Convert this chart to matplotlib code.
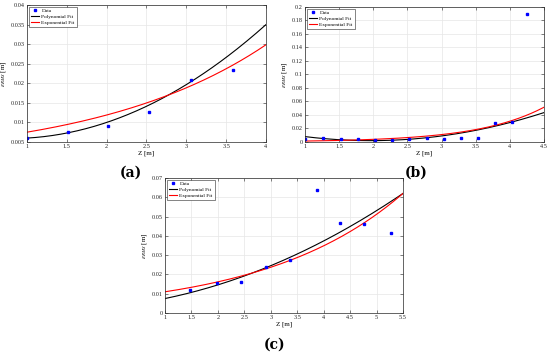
import numpy as np
import matplotlib
matplotlib.use("Agg")
import matplotlib.pyplot as plt

plt.rcParams['font.family'] = ['Liberation Serif', 'DejaVu Serif']
plt.rcParams['mathtext.fontset'] = 'stix'

# ---- Panel (a) ----
za = [1.00, 1.513, 2.014, 2.532, 3.053, 3.592]
ea = [0.00603, 0.00767, 0.00905, 0.01259, 0.02078, 0.02336]
poly_a = [0.002833, -0.0045, 0.007667]      # quadratic coefficients
exp_a = [0.00474, 0.46]                      # a*exp(b*z)
xlim_a = [1, 4]
ylim_a = [0.005, 0.04]
xt_a = [1, 1.5, 2, 2.5, 3, 3.5, 4]
yt_a = [0.005, 0.01, 0.015, 0.02, 0.025, 0.03, 0.035, 0.04]
ytl_a = ['0.005', '0.01', '0.015', '0.02', '0.025', '0.03', '0.035', '0.04']

# ---- Panel (b) ----
zb = [1.00, 1.27, 1.52, 1.77, 2.03, 2.28, 2.53, 2.78, 3.03, 3.28, 3.53, 3.78, 4.03, 4.25]
eb = [0.0038, 0.0052, 0.0043, 0.0048, 0.0033, 0.0033, 0.0048, 0.0052, 0.0048,
      0.0057, 0.0062, 0.0280, 0.0298, 0.1898]
poly_b = [0.00646, -0.02537, 0.02692]
exp_b = [0.000500, 1.03]
xlim_b = [1, 4.5]
ylim_b = [0, 0.2]
xt_b = [1, 1.5, 2, 2.5, 3, 3.5, 4, 4.5]
yt_b = [0, 0.02, 0.04, 0.06, 0.08, 0.1, 0.12, 0.14, 0.16, 0.18, 0.2]
ytl_b = ['0', '0.02', '0.04', '0.06', '0.08', '0.1', '0.12', '0.14', '0.16', '0.18', '0.2']

# ---- Panel (c) ----
zc = [1.475, 1.98, 2.443, 2.911, 3.36, 3.867, 4.316, 4.772, 5.266]
ec = [0.01167, 0.0153, 0.0160, 0.0239, 0.0275, 0.0638, 0.0467, 0.0462, 0.0413]
poly_c = [0.001437, 0.00277, 0.0032925]
exp_c = [0.00749, 0.3843]
xlim_c = [1, 5.5]
ylim_c = [0, 0.07]
xt_c = [1, 1.5, 2, 2.5, 3, 3.5, 4, 4.5, 5, 5.5]
yt_c = [0, 0.01, 0.02, 0.03, 0.04, 0.05, 0.06, 0.07]
ytl_c = ['0', '0.01', '0.02', '0.03', '0.04', '0.05', '0.06', '0.07']

W, H = 550, 352
fig = plt.figure(figsize=(W / 100, H / 100), dpi=100)


def frac(l, r, t, b):
    return [l / W, 1 - b / H, (r - l) / W, (b - t) / H]


def panel(rect, z, e, poly, expc, xlim, ylim, xt, yt, ytl):
    ax = fig.add_axes(rect)
    zz = np.linspace(xlim[0], xlim[1], 200)
    ax.plot(zz, np.polyval(poly, zz), color='black', lw=0.8, label='Polynomial Fit')
    ax.plot(zz, expc[0] * np.exp(expc[1] * zz), color='red', lw=0.8, label='Exponential Fit')
    ax.plot(z, e, linestyle='none', marker='s', ms=1.6, color='blue', mec='blue', label='Data')
    ax.set_xlim(xlim)
    ax.set_ylim(ylim)
    ax.set_xticks(xt)
    ax.set_xticklabels([('%g' % v) for v in xt])
    ax.set_yticks(yt)
    ax.set_yticklabels(ytl)
    ax.grid(True, color='#e6e6e6', lw=0.5)
    ax.set_axisbelow(True)
    ax.tick_params(direction='in', length=2, width=0.4, labelsize=4.5, pad=1.5,
                   top=True, right=True, colors='#262626')
    for s in ax.spines.values():
        s.set_linewidth(0.5)
        s.set_color('#262626')
    ax.set_xlabel('Z [m]', fontsize=5, labelpad=1)
    ax.set_ylabel(r'$\epsilon_{RMS}$ [m]', fontsize=5, labelpad=2)
    h, l = ax.get_legend_handles_labels()
    order = [2, 0, 1]
    ax.legend([h[i] for i in order], [l[i] for i in order], loc='upper left',
              fontsize=3.9, frameon=True, fancybox=False, edgecolor='#262626',
              framealpha=1, borderpad=0.35, handlelength=1.6, labelspacing=0.2,
              handletextpad=0.4, borderaxespad=0.3).get_frame().set_linewidth(0.4)
    return ax


panel(frac(27, 266, 5, 142), za, ea, poly_a, exp_a, xlim_a, ylim_a, xt_a, yt_a, ytl_a)
panel(frac(305, 544, 7, 142), zb, eb, poly_b, exp_b, xlim_b, ylim_b, xt_b, yt_b, ytl_b)
panel(frac(165, 403, 178, 313), zc, ec, poly_c, exp_c, xlim_c, ylim_c, xt_c, yt_c, ytl_c)

for txt, x, y in [('(a)', 131, 173), ('(b)', 416, 173), ('(c)', 275, 345)]:
    fig.text(x / W, 1 - y / H, txt, ha='center', va='center', fontsize=10,
             fontweight='bold', family=['DejaVu Serif'])

fig.savefig('out.png', dpi=100)
